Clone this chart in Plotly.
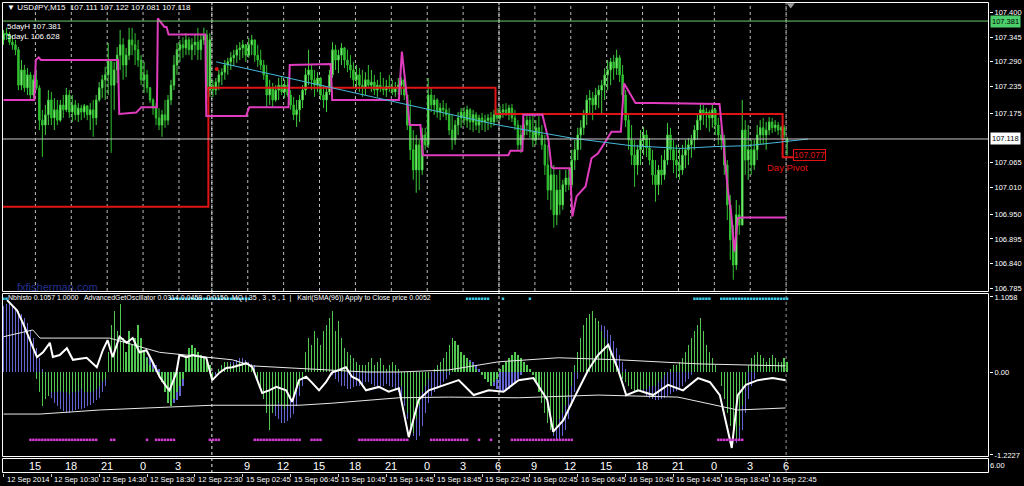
import plotly.graph_objects as go

# ---------------- DATA ----------------
# USDJPY M15 candles, one per bar (bar index 0 .. 262)
bar_open = [
    107.339, 107.354, 107.350, 107.334, 107.328, 107.317, 107.238, 107.272, 107.232, 107.261,
    107.216, 107.250, 107.232, 107.160, 107.149, 107.172, 107.205, 107.165, 107.183, 107.160,
    107.194, 107.183, 107.216, 107.178, 107.194, 107.172, 107.187, 107.178, 107.192, 107.172,
    107.183, 107.165, 107.205, 107.232, 107.250, 107.261, 107.294, 107.238, 107.272, 107.305,
    107.328, 107.283, 107.305, 107.339, 107.328, 107.317, 107.294, 107.250, 107.261, 107.232,
    107.205, 107.187, 107.165, 107.149, 107.172, 107.160, 107.205, 107.238, 107.283, 107.317,
    107.328, 107.321, 107.339, 107.317, 107.328, 107.334,
    107.317, 107.339, 107.350, 107.227, 107.238, 107.227, 107.245, 107.261, 107.267, 107.283,
    107.290, 107.299, 107.305, 107.317, 107.321, 107.328, 107.305, 107.328, 107.339, 107.305,
    107.294, 107.283, 107.261, 107.216, 107.232, 107.205, 107.227, 107.238, 107.223, 107.238,
    107.216, 107.194, 107.172, 107.183, 107.205, 107.227, 107.261, 107.272, 107.250, 107.238,
    107.254, 107.216, 107.205, 107.223, 107.261, 107.317, 107.294, 107.305, 107.321, 107.294,
    107.283, 107.272, 107.250, 107.261, 107.238, 107.232, 107.250, 107.238, 107.245, 107.227,
    107.238, 107.232, 107.227, 107.236, 107.232, 107.223, 107.232,
    107.238, 107.250, 107.216, 107.149, 107.094, 107.049, 107.105, 107.049, 107.127, 107.105,
    107.216, 107.194, 107.205, 107.178, 107.187, 107.183, 107.172, 107.138, 107.116, 107.149,
    107.165, 107.178, 107.160, 107.183, 107.156, 107.172, 107.149, 107.165, 107.156, 107.160,
    107.165, 107.156, 107.172, 107.165, 107.178, 107.183, 107.174, 107.187, 107.165, 107.149,
    107.105, 107.127, 107.149, 107.160, 107.134, 107.116, 107.143, 107.127, 107.105, 107.060,
    107.004, 107.038, 106.949, 107.004, 106.971, 107.016, 107.031, 107.016, 107.071, 107.094,
    107.127, 107.143, 107.172, 107.205, 107.209, 107.194, 107.216,
    107.227, 107.238, 107.261, 107.272, 107.290, 107.276, 107.299, 107.261, 107.216, 107.160,
    107.116, 107.082, 107.060, 107.094, 107.116, 107.127, 107.098, 107.071, 107.038, 107.016,
    107.049, 107.038, 107.071, 107.127, 107.094, 107.071, 107.060, 107.049, 107.082, 107.094,
    107.105, 107.116, 107.138, 107.160, 107.183, 107.172, 107.178, 107.165, 107.183, 107.149,
    107.127, 107.116, 107.060, 106.971, 106.893, 106.837, 106.949, 106.926, 107.138, 107.071,
    107.094, 107.060, 107.094, 107.127, 107.143, 107.127, 107.138, 107.156, 107.143, 107.149,
    107.138, 107.143, 107.111,
]
bar_high = [
    107.361, 107.366, 107.357, 107.350, 107.339, 107.323, 107.294, 107.283, 107.276, 107.267,
    107.261, 107.272, 107.238, 107.183, 107.194, 107.227, 107.223, 107.209, 107.205, 107.205,
    107.216, 107.232, 107.227, 107.216, 107.205, 107.198, 107.194, 107.196, 107.192, 107.198,
    107.205, 107.216, 107.245, 107.261, 107.279, 107.332, 107.294, 107.290, 107.323, 107.361,
    107.343, 107.321, 107.366, 107.366, 107.354, 107.339, 107.305, 107.290, 107.272, 107.234,
    107.209, 107.198, 107.187, 107.183, 107.205, 107.216, 107.250, 107.305, 107.332, 107.339,
    107.345, 107.354, 107.345, 107.343, 107.350, 107.366,
    107.350, 107.366, 107.361, 107.354, 107.250, 107.254, 107.272, 107.276, 107.294, 107.299,
    107.312, 107.317, 107.328, 107.334, 107.339, 107.330, 107.343, 107.350, 107.339, 107.328,
    107.317, 107.294, 107.283, 107.250, 107.243, 107.238, 107.254, 107.256, 107.250, 107.256,
    107.227, 107.212, 107.205, 107.216, 107.238, 107.276, 107.317, 107.283, 107.272, 107.267,
    107.256, 107.238, 107.232, 107.272, 107.334, 107.328, 107.317, 107.332, 107.323, 107.317,
    107.305, 107.290, 107.283, 107.276, 107.272, 107.267, 107.283, 107.272, 107.261, 107.250,
    107.267, 107.254, 107.250, 107.261, 107.250, 107.245, 107.254,
    107.256, 107.254, 107.216, 107.205, 107.138, 107.127, 107.116, 107.143, 107.143, 107.254,
    107.232, 107.216, 107.209, 107.198, 107.205, 107.198, 107.187, 107.172, 107.160, 107.178,
    107.187, 107.189, 107.192, 107.187, 107.183, 107.178, 107.172, 107.176, 107.172, 107.174,
    107.178, 107.183, 107.187, 107.192, 107.196, 107.198, 107.194, 107.196, 107.183, 107.160,
    107.149, 107.165, 107.172, 107.176, 107.172, 107.160, 107.169, 107.149, 107.127, 107.105,
    107.071, 107.060, 107.038, 107.049, 107.027, 107.049, 107.053, 107.094, 107.116, 107.143,
    107.160, 107.183, 107.216, 107.227, 107.223, 107.232, 107.238,
    107.250, 107.276, 107.294, 107.299, 107.305, 107.317, 107.305, 107.283, 107.227, 107.172,
    107.149, 107.116, 107.105, 107.138, 107.145, 107.138, 107.120, 107.094, 107.071, 107.060,
    107.082, 107.094, 107.154, 107.143, 107.116, 107.105, 107.098, 107.105, 107.116, 107.120,
    107.127, 107.149, 107.172, 107.198, 107.194, 107.187, 107.183, 107.194, 107.187, 107.165,
    107.149, 107.127, 107.071, 106.993, 106.926, 106.982, 106.971, 107.205, 107.160, 107.149,
    107.116, 107.116, 107.149, 107.160, 107.165, 107.156, 107.167, 107.165, 107.160, 107.156,
    107.147, 107.149, 107.122,
]
bar_low = [
    107.328, 107.339, 107.328, 107.317, 107.305, 107.227, 107.227, 107.223, 107.216, 107.205,
    107.209, 107.227, 107.138, 107.078, 107.127, 107.149, 107.149, 107.138, 107.149, 107.156,
    107.165, 107.178, 107.165, 107.156, 107.160, 107.156, 107.160, 107.165, 107.160, 107.138,
    107.123, 107.149, 107.201, 107.209, 107.205, 107.216, 107.087, 107.183, 107.243, 107.272,
    107.250, 107.256, 107.294, 107.305, 107.283, 107.279, 107.238, 107.221, 107.221, 107.198,
    107.172, 107.149, 107.138, 107.123, 107.143, 107.149, 107.194, 107.227, 107.261, 107.290,
    107.299, 107.305, 107.305, 107.294, 107.305, 107.294,
    107.294, 107.328, 107.205, 107.212, 107.212, 107.216, 107.227, 107.238, 107.250, 107.261,
    107.272, 107.281, 107.288, 107.294, 107.299, 107.290, 107.299, 107.305, 107.290, 107.279,
    107.272, 107.250, 107.189, 107.194, 107.189, 107.201, 107.205, 107.216, 107.209, 107.212,
    107.183, 107.160, 107.145, 107.156, 107.187, 107.216, 107.238, 107.227, 107.212, 107.223,
    107.205, 107.187, 107.178, 107.216, 107.254, 107.272, 107.265, 107.283, 107.276, 107.267,
    107.254, 107.234, 107.227, 107.223, 107.212, 107.216, 107.232, 107.223, 107.216, 107.212,
    107.223, 107.216, 107.212, 107.223, 107.216, 107.212, 107.216,
    107.216, 107.205, 107.138, 107.071, 107.027, 106.998, 107.004, 107.038, 107.094, 107.098,
    107.178, 107.172, 107.165, 107.160, 107.167, 107.160, 107.127, 107.094, 107.105, 107.127,
    107.143, 107.149, 107.143, 107.138, 107.134, 107.138, 107.131, 107.138, 107.134, 107.138,
    107.143, 107.147, 107.156, 107.160, 107.165, 107.169, 107.160, 107.156, 107.138, 107.094,
    107.087, 107.116, 107.127, 107.120, 107.100, 107.105, 107.116, 107.094, 107.038, 106.982,
    106.960, 106.920, 106.926, 106.949, 106.960, 107.000, 107.004, 107.009, 107.049, 107.071,
    107.094, 107.127, 107.149, 107.172, 107.160, 107.183, 107.187,
    107.176, 107.205, 107.227, 107.238, 107.250, 107.261, 107.245, 107.194, 107.145, 107.094,
    107.060, 107.011, 107.038, 107.060, 107.082, 107.078, 107.060, 107.016, 106.978, 106.993,
    107.016, 107.027, 107.060, 107.071, 107.042, 107.031, 107.027, 107.038, 107.053, 107.060,
    107.076, 107.094, 107.116, 107.138, 107.149, 107.143, 107.134, 107.143, 107.127, 107.105,
    107.094, 107.038, 106.937, 106.848, 106.804, 106.826, 106.904, 106.926, 107.038, 107.027,
    107.038, 107.049, 107.071, 107.105, 107.105, 107.094, 107.127, 107.131, 107.134, 107.127,
    107.120, 107.116, 107.081,
]
bar_close = [
    107.354, 107.350, 107.334, 107.328, 107.317, 107.238, 107.272, 107.232, 107.261, 107.216,
    107.250, 107.232, 107.160, 107.149, 107.172, 107.205, 107.165, 107.183, 107.160, 107.194,
    107.183, 107.216, 107.178, 107.194, 107.172, 107.187, 107.178, 107.192, 107.172, 107.183,
    107.165, 107.205, 107.232, 107.250, 107.261, 107.294, 107.238, 107.272, 107.305, 107.328,
    107.283, 107.305, 107.339, 107.328, 107.317, 107.294, 107.250, 107.261, 107.232, 107.205,
    107.187, 107.165, 107.149, 107.172, 107.160, 107.205, 107.238, 107.283, 107.317, 107.328,
    107.321, 107.339, 107.317, 107.328, 107.334, 107.317,
    107.339, 107.350, 107.227, 107.339, 107.227, 107.245, 107.261, 107.267, 107.283, 107.290,
    107.299, 107.305, 107.317, 107.321, 107.328, 107.305, 107.328, 107.339, 107.305, 107.294,
    107.283, 107.261, 107.216, 107.232, 107.205, 107.227, 107.238, 107.223, 107.238, 107.216,
    107.194, 107.172, 107.183, 107.205, 107.227, 107.261, 107.272, 107.250, 107.238, 107.254,
    107.216, 107.205, 107.223, 107.261, 107.317, 107.294, 107.305, 107.321, 107.294, 107.283,
    107.272, 107.250, 107.261, 107.238, 107.232, 107.250, 107.238, 107.245, 107.227, 107.238,
    107.232, 107.227, 107.236, 107.232, 107.223, 107.232, 107.238,
    107.250, 107.216, 107.149, 107.094, 107.049, 107.105, 107.049, 107.127, 107.105, 107.216,
    107.194, 107.205, 107.178, 107.187, 107.183, 107.172, 107.138, 107.116, 107.149, 107.165,
    107.178, 107.160, 107.183, 107.156, 107.172, 107.149, 107.165, 107.156, 107.160, 107.165,
    107.156, 107.172, 107.165, 107.178, 107.183, 107.174, 107.187, 107.165, 107.149, 107.105,
    107.127, 107.149, 107.160, 107.134, 107.116, 107.143, 107.127, 107.105, 107.060, 107.004,
    107.038, 106.949, 107.004, 106.971, 107.016, 107.031, 107.016, 107.071, 107.094, 107.127,
    107.143, 107.172, 107.205, 107.209, 107.194, 107.216, 107.227,
    107.238, 107.261, 107.272, 107.290, 107.276, 107.299, 107.261, 107.216, 107.160, 107.116,
    107.082, 107.060, 107.094, 107.116, 107.127, 107.098, 107.071, 107.038, 107.016, 107.049,
    107.038, 107.071, 107.127, 107.094, 107.071, 107.060, 107.049, 107.082, 107.094, 107.105,
    107.116, 107.138, 107.160, 107.183, 107.172, 107.178, 107.165, 107.183, 107.149, 107.127,
    107.116, 107.060, 106.971, 106.893, 106.837, 106.949, 106.926, 107.138, 107.071, 107.094,
    107.060, 107.094, 107.127, 107.143, 107.127, 107.138, 107.156, 107.143, 107.149, 107.138,
    107.143, 107.127, 107.118,
]

# daily pivot (red steps): day start bar and pivot value
day_start_bar = [0, 69, 165, 261]
day_pivot = [106.967, 107.232, 107.174, 107.077]
pivot_end_bar = 264

# magenta trailing line (bar, price)
mag_bar = [0, 10.3, 10.8, 11.8, 12.5, 38.3, 38.7, 44.4, 46.1, 51.3, 51.6, 53.8, 54.5, 55.2, 67.5,
           67.8, 81.1, 82.2, 95.3, 95.7, 109.4, 109.9, 132.2, 133.2, 134.5, 135.8, 139.4, 140.2,
           168.8, 169.5, 173.5, 173.8, 180.2, 182.2, 183.2, 183.8, 189.4, 190.2, 191.6, 194.6,
           196.6, 198.8, 203.3, 206.4, 207.5, 209.9, 211.3, 217.2, 239.4, 240.2, 242.2, 243.3,
           244.4, 245.5, 246.5, 261.6]
mag_price = [107.205, 107.205, 107.294, 107.300, 107.294, 107.294, 107.174, 107.177, 107.189,
             107.189, 107.387, 107.368, 107.368, 107.351, 107.351, 107.169, 107.169, 107.189,
             107.189, 107.283, 107.285, 107.205, 107.205, 107.313, 107.235, 107.149, 107.149,
             107.082, 107.082, 107.092, 107.092, 107.172, 107.172, 107.116, 107.056, 107.053,
             107.053, 106.945, 106.990, 107.012, 107.075, 107.086, 107.134, 107.134, 107.242,
             107.213, 107.198, 107.198, 107.196, 107.142, 107.004, 106.952, 106.867, 106.941,
             106.943, 106.943]

# light-blue regression line (bar, price)
reg_bar = [71.1, 132.2, 165.5, 189.9, 198.8, 209.9, 226.6, 237.7, 248.8, 261.1, 269.0]
reg_price = [107.290, 107.199, 107.149, 107.120, 107.112, 107.103, 107.097, 107.101, 107.103,
             107.112, 107.118]

five_day_high = 107.381
five_day_low = 106.628
last_price = 107.118
last_ohlc = "107.111 107.122 107.081 107.118"
red_dot_bar, red_dot_price = 71.3, 107.274

price_ticks = [107.400, 107.345, 107.290, 107.235, 107.175, 107.065, 107.010,
               106.950, 106.895, 106.840, 106.785]

# time axis
grid_bar = [10.5, 22.5, 34.5, 46.5, 58.5, 69.5, 81.5, 93.5, 105.5, 117.5, 129.5, 141.5,
            153.5, 165.5, 177.5, 189.5, 201.5, 213.5, 225.5, 237.5, 249.5, 261.5]
hour_bar = [10.5, 22.5, 34.5, 46.5, 58.5, 81.5, 93.5, 105.5, 117.5, 129.5, 141.5,
            153.5, 165.5, 177.5, 189.5, 201.5, 213.5, 225.5, 237.5, 249.5, 261.5]
hour_text = ["15", "18", "21", "0", "3", "9", "12", "15", "18", "21", "0",
             "3", "6", "9", "12", "15", "18", "21", "0", "3", "6"]
sep_bar = [69.5, 165.5, 261.5]
date_bar = [0, 16, 32, 48, 64, 80, 96, 112, 128, 144, 160, 176, 192, 208, 224, 240, 256]
date_text = ["12 Sep 2014", "12 Sep 10:30", "12 Sep 14:30", "12 Sep 18:30", "12 Sep 22:30",
             "15 Sep 02:45", "15 Sep 06:45", "15 Sep 10:45", "15 Sep 14:45", "15 Sep 18:45",
             "15 Sep 22:45", "16 Sep 02:45", "16 Sep 06:45", "16 Sep 10:45", "16 Sep 14:45",
             "16 Sep 18:45", "16 Sep 22:45"]

# oscillator window
blue_hist = [
    0.98, 1.0, 1.0, 0.97, 0.95, 0.9, 0.85, 0.8, 0.72, 0.62, 0.5, 0.35, 0.2, 0.05,
    -0.25, -0.3, -0.38, -0.45, -0.5, -0.55, -0.58, -0.6, -0.6, -0.58, -0.56, -0.55, -0.55,
    -0.53, -0.5, -0.48, -0.45, -0.42, -0.38, -0.3, -0.2,
    0.05, 0.1, 0.15, 0.2, 0.22, 0.25, 0.28, 0.3, 0.3, 0.28, 0.26, 0.25, 0.25, 0.22, 0.2, 0.15,
    0.1, 0.05,
    -0.1, -0.2, -0.3, -0.4, -0.45, -0.42, -0.35, -0.2,
    0.05, 0.15, 0.2, 0.25, 0.25, 0.22, 0.2, 0.15,
    0.1, -0.1, -0.05, 0.05,
    0.1, 0.12, 0.15, 0.15, 0.15, 0.18, 0.2, 0.2, 0.18, 0.15, 0.12, 0.1,
    0.0, -0.15, -0.3, -0.45, -0.55, -0.6, -0.65, -0.7, -0.75, -0.75, -0.72, -0.68, -0.62, -0.5,
    -0.35, -0.2,
    0.05, 0.1, 0.15, 0.2, 0.2, 0.15, 0.1, 0.05, 0.0, -0.05,
    -0.1, -0.15, -0.2, -0.2, -0.25, -0.25, -0.22, -0.2, -0.2, -0.18,
    -0.15, -0.15, -0.18, -0.2, -0.2, -0.22, -0.2, -0.18, -0.2, -0.22, -0.25, -0.3,
    -0.4, -0.5, -0.7, -0.85, -0.95, -1.0, -0.95,
    -0.8, -0.6, -0.45, -0.35, -0.3, -0.25,
    -0.2, -0.15, -0.1, -0.05, 0.05, 0.1, 0.15, 0.18, 0.2, 0.2, 0.18, 0.15, 0.1, 0.05, 0.0,
    -0.05, -0.1, -0.15, -0.2, -0.25, -0.3, -0.3, -0.28, -0.25, -0.2, -0.15, -0.1, -0.05, 0.0,
    0.05,
    0.05, 0.0, -0.1, -0.25, -0.4, -0.55, -0.7, -0.85, -0.95, -1.0, -1.0, -0.95, -0.85, -0.7,
    -0.5, -0.3, -0.1, 0.1, 0.3, 0.45,
    0.55, 0.6, 0.65, 0.7, 0.7, 0.68, 0.62, 0.55, 0.45, 0.35, 0.25, 0.15, 0.05, -0.05, -0.1,
    -0.15, -0.2, -0.25, -0.3, -0.35, -0.38, -0.4, -0.42, -0.42, -0.4, -0.38, -0.35, -0.32,
    -0.3, -0.28, -0.25, -0.2, -0.15, -0.1, -0.05, 0.0, 0.05, 0.1, 0.1, 0.1,
    0.1, 0.08, 0.05, 0.0, -0.1, -0.3, -0.55, -0.8, -1.0, -1.05, -1.0, -0.85, -0.6, -0.4, -0.2,
    -0.1, 0.0, 0.05, 0.1, 0.12, 0.15, 0.15, 0.15, 0.15, 0.15, 0.12, 0.1,
]
green_hist = [
    0.0, 0.0, 0.0, 0.0, 0.0, 0.0, 0.0, 0.0, 0.0, 0.0, 0.0,
    -0.1, -0.3, -0.5,
    -0.4, -0.35, -0.3, -0.3, -0.3, -0.28, -0.3, -0.3, -0.32, -0.3, -0.3, -0.28, -0.25, -0.3,
    -0.3, -0.3, -0.28, -0.25, -0.2, -0.15, -0.1,
    0.3, 0.7, 0.9, 0.6, 1.0, 0.5,
    0.3, 0.6, 0.4, 0.5, 0.7, 0.5, 0.3, 0.2, 0.1, 0.05, 0.0, -0.05,
    -0.15, -0.3, -0.45, -0.5, -0.4, -0.3, -0.2, -0.1,
    0.2, 0.35, 0.4, 0.35, 0.3, 0.25, 0.2, 0.15,
    0.1, -0.1, 0.0, 0.05, 0.1, 0.15, 0.15, 0.12, 0.1, 0.12, 0.15, 0.15, 0.12, 0.1, 0.08, 0.05,
    -0.1, -0.25, -0.4, -0.6, -0.85, -0.6, -0.5, -0.45, -0.5, -0.55, -0.5, -0.4, -0.35, -0.3,
    -0.2, -0.1,
    0.3, 0.5, 0.4, 0.6, 0.5, 0.4, 0.6, 0.7, 0.8, 0.9, 0.6, 0.75, 0.5, 0.35, 0.3, 0.25, 0.2,
    0.15, 0.1, 0.1,
    0.1, 0.15, 0.2, 0.1, 0.15, 0.2, 0.1, 0.05, 0.1, 0.15, 0.1, 0.05,
    -0.2, -0.4, -0.6, -0.8, -0.9, -0.7, -0.5, -0.3, -0.2, -0.1, 0.0, 0.05, 0.1,
    0.15, 0.2, 0.3, 0.4, 0.5, 0.45, 0.4, 0.3, 0.25, 0.2, 0.15, 0.1, 0.05, 0.0, -0.05,
    -0.1, -0.15, -0.2, -0.15, -0.1, 0.05, 0.1, 0.15, 0.2, 0.25, 0.3, 0.25, 0.2, 0.15, 0.1,
    0.05, -0.05, -0.15, -0.3, -0.45, -0.6, -0.75, -0.85, -0.9, -0.8, -0.7, -0.6, -0.5, -0.35,
    -0.2, 0.1, 0.3, 0.5, 0.7, 0.8,
    0.85, 0.9, 0.8, 0.75, 0.6, 0.5, 0.4, 0.3, 0.2, 0.1, 0.0, -0.1, -0.15, -0.2, -0.25,
    -0.3, -0.3, -0.3, -0.25, -0.25, -0.2, -0.2, -0.2, -0.15, -0.1, -0.05, 0.0, 0.05, 0.1, 0.1,
    0.15, 0.2, 0.3, 0.4, 0.5, 0.6, 0.7, 0.8, 0.6, 0.4,
    0.3, 0.2, 0.1, 0.0, -0.2, -0.4, -0.6, -0.8, -0.95, -1.0, -0.8, -0.5, -0.2, 0.1, 0.2,
    0.25, 0.3, 0.25, 0.2, 0.15, 0.2, 0.25, 0.2, 0.15, 0.15, 0.2, 0.15,
]
osc_bar = [1.2, 4.5, 6.5, 9.8, 11.2, 13.2, 15.5, 16.5, 18.8, 21.2, 23.2, 27.8, 31.2, 33.2, 34.8,
           36.5, 38.8, 41.2, 43.2, 45.5, 47.8, 49.8, 52.2, 54.5, 55.5, 57.8, 58.8, 61.2, 63.2,
           67.8, 69.8, 72.2, 74.5, 76.5, 81.2, 83.2, 86.5, 88.8, 91.2, 94.5, 96.5, 98.8, 101.2,
           103.2, 105.5, 107.8, 109.8, 112.2, 114.5, 116.5, 118.8, 121.2, 125.5, 128.8, 132.2,
           135.5, 138.8, 142.2, 147.2, 152.2, 157.2, 162.2, 167.2, 172.2, 177.2, 181.8, 183.8,
           187.2, 190.5, 195.5, 198.8, 202.2, 205.5, 208.2, 212.2, 217.2, 222.2, 227.2, 232.2,
           236.2, 239.5, 242.2, 243.5, 245.5, 248.2, 252.2, 257.2, 261.5]
osc_val = [1.06, 0.91, 0.72, 0.37, 0.22, 0.29, 0.43, 0.22, 0.25, 0.35, 0.18, 0.21, 0.07, 0.32,
           0.47, 0.22, 0.52, 0.43, 0.50, 0.29, 0.32, 0.15, -0.07, -0.22, -0.27, -0.01, 0.25,
           0.22, 0.25, 0.21, -0.12, -0.01, 0.06, 0.07, 0.13, 0.07, -0.31, -0.27, -0.22, -0.27,
           -0.44, -0.12, -0.07, -0.16, -0.27, -0.15, -0.01, 0.03, 0.07, -0.07, -0.12, -0.27,
           -0.22, -0.29, -0.24, -0.96, -0.41, -0.27, -0.19, -0.12, -0.34, -0.27, -0.29, -0.12,
           -0.09, -0.41, -0.88, -0.71, -0.41, 0.03, 0.25, 0.40, 0.03, -0.34, -0.27, -0.34,
           -0.19, -0.27, -0.09, -0.15, -0.34, -0.85, -1.12, -0.34, -0.19, -0.12, -0.09, -0.12]
upper_bar = [0, 9.8, 12.2, 35.5, 52.2, 76.5, 83.2, 104.5, 121.2, 132.2, 148.8, 165.5, 185.5,
             205.5, 232.2, 261.5]
upper_val = [0.52, 0.62, 0.50, 0.50, 0.29, 0.18, 0.09, 0.04, 0.0, 0.0, 0.03, 0.15, 0.21, 0.18,
             0.12, 0.09]
lower_bar = [0, 12.2, 32.2, 69.8, 98.8, 109.8, 132.2, 148.8, 172.2, 198.8, 225.5, 245.5, 261.5]
lower_val = [-0.62, -0.62, -0.56, -0.49, -0.49, -0.46, -0.38, -0.37, -0.38, -0.34, -0.37,
             -0.56, -0.53]
cyan_dot_runs = [(0, 1), (56, 82), (155, 162), (167, 167), (176, 176), (231, 236), (240, 262)]
mag_dot_runs = [(9, 31), (36, 37), (48, 48), (51, 57), (69, 72), (84, 99), (103, 106),
                (119, 135), (143, 155), (159, 159), (163, 163), (170, 190), (239, 247)]
osc_max, osc_min = 1.1058, -1.2227

# ---------------- LAYOUT HELPERS ----------------
W, H = 1024, 486
ML, MR, MT, MB = 2, 32, 2, 13
PH = H - MT - MB
PW = W - ML - MR
HALF_X = 0.5 / PW          # half a pixel in paper-x units (crisp 1px frame lines)
GRID_NUDGE = 1.0 / 6.0     # half a pixel in bar units (3 px per bar)


def py(px):  # pixel row -> paper fraction
    return (H - MB - px) / PH


bars = list(range(len(bar_close)))
WHITE = "#ffffff"
FONT = "Liberation Sans, Arial, sans-serif"

fig = go.Figure()

# --- oscillator window ---
fig.add_trace(go.Bar(x=bars, y=blue_hist, width=0.42, marker=dict(color="#6464d2", line=dict(width=0)),
                     xaxis="x2", yaxis="y2", showlegend=False, hoverinfo="skip"))
fig.add_trace(go.Bar(x=bars, y=green_hist, width=0.42, marker=dict(color="#52c852", line=dict(width=0)),
                     xaxis="x2", yaxis="y2", showlegend=False, hoverinfo="skip"))
fig.add_trace(go.Scatter(x=upper_bar, y=upper_val, mode="lines", line=dict(color="#e8e8e8", width=1),
                         xaxis="x2", yaxis="y2", showlegend=False, hoverinfo="skip"))
fig.add_trace(go.Scatter(x=lower_bar, y=lower_val, mode="lines", line=dict(color="#e8e8e8", width=1),
                         xaxis="x2", yaxis="y2", showlegend=False, hoverinfo="skip"))
fig.add_trace(go.Scatter(x=osc_bar, y=osc_val, mode="lines", line=dict(color=WHITE, width=2),
                         xaxis="x2", yaxis="y2", showlegend=False, hoverinfo="skip"))
cy_x = [b for a, z in cyan_dot_runs for b in range(a, z + 1)]
fig.add_trace(go.Scatter(x=cy_x, y=[1.08] * len(cy_x), mode="markers",
                         marker=dict(symbol="square", size=2.5, color="#3cc8e6", line=dict(width=0)),
                         xaxis="x2", yaxis="y2", showlegend=False, hoverinfo="skip"))
mg_x = [b for a, z in mag_dot_runs for b in range(a, z + 1)]
fig.add_trace(go.Scatter(x=mg_x, y=[-1.0] * len(mg_x), mode="markers",
                         marker=dict(symbol="square", size=2.5, color="#d23cd2", line=dict(width=0)),
                         xaxis="x2", yaxis="y2", showlegend=False, hoverinfo="skip"))

# --- price window ---
fig.add_trace(go.Candlestick(
    x=bars, open=bar_open, high=bar_high, low=bar_low, close=bar_close,
    increasing=dict(line=dict(color="#40d040", width=1), fillcolor="#b4ffa8"),
    decreasing=dict(line=dict(color="#30c030", width=1), fillcolor="#30c030"),
    whiskerwidth=0, xaxis="x", yaxis="y", showlegend=False, hoverinfo="skip"))

piv_x = [b - 0.5 for b in day_start_bar] + [pivot_end_bar]
piv_y = day_pivot + [day_pivot[-1]]
fig.add_trace(go.Scatter(x=piv_x, y=piv_y, mode="lines", line=dict(color="#e01414", width=2, shape="hv"),
                         xaxis="x", yaxis="y", showlegend=False, hoverinfo="skip"))
fig.add_trace(go.Scatter(x=mag_bar, y=mag_price, mode="lines", line=dict(color="#e03cbe", width=2),
                         xaxis="x", yaxis="y", showlegend=False, hoverinfo="skip"))
fig.add_trace(go.Scatter(x=reg_bar, y=reg_price, mode="lines", line=dict(color="#46b8dc", width=1),
                         xaxis="x", yaxis="y", showlegend=False, hoverinfo="skip"))
fig.add_trace(go.Scatter(x=[red_dot_bar], y=[red_dot_price], mode="markers",
                         marker=dict(color="#e01414", size=4), xaxis="x", yaxis="y",
                         showlegend=False, hoverinfo="skip"))
fig.add_trace(go.Scatter(x=[263.2], y=[107.417], mode="markers",
                         marker=dict(symbol="triangle-down", color="#9a9a9a", size=7),
                         xaxis="x", yaxis="y", showlegend=False, hoverinfo="skip"))

shapes = []
# hour grid in price window
for b in grid_bar:
    shapes.append(dict(type="line", xref="x", yref="y domain", x0=b + GRID_NUDGE, x1=b + GRID_NUDGE,
                       y0=0, y1=1, line=dict(color="#bdbdbd", width=1, dash="3px,3px"), layer="below"))
# period separators through all windows
for k, b in enumerate(sep_bar):
    shapes.append(dict(type="line", xref="x", yref="paper", x0=b + GRID_NUDGE, x1=b + GRID_NUDGE, y0=0, y1=1,
                       line=dict(color="#9a9a9a" if k == len(sep_bar) - 1 else "#f0f0f0",
                                 width=1, dash="3px,3px"), layer="below"))
# price lines
shapes.append(dict(type="line", xref="paper", yref="y", x0=0, x1=1, y0=five_day_high, y1=five_day_high,
                   line=dict(color="#6ccf6c", width=1)))
shapes.append(dict(type="line", xref="paper", yref="y", x0=0, x1=1, y0=last_price, y1=last_price,
                   line=dict(color="#c8c8c8", width=1)))
# window frames (on half pixels so they stay 1px sharp)
for top, bot in [(2.5, 291.5), (293.5, 456.5), (458.5, 472.5)]:
    shapes.append(dict(type="rect", xref="paper", yref="paper", x0=HALF_X, x1=1 - HALF_X,
                       y0=py(bot), y1=py(top), line=dict(color=WHITE, width=1), fillcolor="rgba(0,0,0,0)"))

ann = []
small = dict(family=FONT, size=7.5, color=WHITE)
ann.append(dict(xref="paper", yref="paper", x=0.003, y=py(8), xanchor="left", yanchor="middle",
                text="▼ USDJPY,M15  " + last_ohlc, showarrow=False, font=dict(family=FONT, size=8, color=WHITE)))
ann.append(dict(xref="paper", yref="paper", x=0.003, y=py(27), xanchor="left", yanchor="middle",
                text=f"5dayH {five_day_high:.3f}", showarrow=False, font=dict(family=FONT, size=8, color=WHITE)))
ann.append(dict(xref="paper", yref="paper", x=0.003, y=py(37), xanchor="left", yanchor="middle",
                text=f"5dayL {five_day_low:.3f}", showarrow=False, font=dict(family=FONT, size=8, color=WHITE)))
ann.append(dict(xref="x", yref="y", x=4, y=106.789, xanchor="left", yanchor="middle",
                text="fxfisherman.com", showarrow=False, font=dict(family=FONT, size=11, color="#24308c")))
ann.append(dict(xref="paper", yref="paper", x=0.004, y=py(298), xanchor="left", yanchor="middle",
                text="Nbhisto 0.1057 1.0000   AdvancedGetOscillator 0.0314 0.0458 -0.0150  MQ | 35 , 3 , 5 , 1  |"
                     "   Kairi(SMA(96)) Apply to Close price 0.0052",
                showarrow=False, font=dict(family=FONT, size=7, color=WHITE)))
# Day pivot label (text sits just under the value box)
ann.append(dict(xref="x", yref="y", x=254.5, y=107.055, xanchor="left", yanchor="middle",
                text="Day Pivot", showarrow=False, font=dict(family=FONT, size=9.5, color="#e01414")))
ann.append(dict(xref="x", yref="y", x=263.8, y=107.083, xanchor="left", yanchor="middle",
                text=f"{day_pivot[-1]:.3f}", showarrow=False, bgcolor="#000000", bordercolor="#e01414",
                borderwidth=1, borderpad=0, font=dict(family=FONT, size=8.5, color="#e01414")))
# right-axis boxes
ann.append(dict(xref="paper", yref="y", x=1, y=five_day_high, xanchor="left", yanchor="middle", xshift=1,
                text=f"{five_day_high:.3f}", showarrow=False, bgcolor="#4ccf6c", borderpad=1,
                font=dict(family=FONT, size=7.5, color="#000000")))
ann.append(dict(xref="paper", yref="y", x=1, y=last_price, xanchor="left", yanchor="middle", xshift=1,
                text=f"{last_price:.3f}", showarrow=False, bgcolor="#ffffff", borderpad=1,
                font=dict(family=FONT, size=7.5, color="#000000")))
# hour labels row
for b, t in zip(hour_bar, hour_text):
    ann.append(dict(xref="x3", yref="y3", x=b, y=0.5, xanchor="center", yanchor="middle", text=t,
                    showarrow=False, font=dict(family=FONT, size=11, color=WHITE)))
# date labels
for b, t in zip(date_bar, date_text):
    ann.append(dict(xref="x3", yref="paper", x=b, y=py(479), xanchor="left", yanchor="middle", xshift=1,
                    text=t, showarrow=False, font=small))

xr = [-0.5, 329.5]
ax_common = dict(range=xr, showgrid=False, zeroline=False, showticklabels=False, ticks="",
                 showline=False, fixedrange=True)
fig.update_layout(
    width=W, height=H, margin=dict(l=ML, r=MR, t=MT, b=MB),
    paper_bgcolor="#000000", plot_bgcolor="#000000", barmode="overlay", bargap=0,
    hovermode=False, showlegend=False,
    xaxis=dict(ax_common, domain=[0, 1], anchor="y", rangeslider=dict(visible=False)),
    xaxis2=dict(ax_common, domain=[0, 1], anchor="y2"),
    xaxis3=dict(ax_common, domain=[0, 1], anchor="y3", ticks="outside", ticklen=3, tickcolor="#cccccc",
                tickvals=date_bar),
    yaxis=dict(domain=[py(291), 1.0], range=[106.779, 107.4235], side="right", showgrid=False,
               zeroline=False, tickvals=price_ticks, ticktext=[f"{v:.3f}" for v in price_ticks],
               ticks="outside", ticklen=3, tickcolor=WHITE, tickfont=small, fixedrange=True),
    yaxis2=dict(domain=[py(456), py(293)], range=[-1.2382, 1.1645], side="right", showgrid=False,
                zeroline=False, tickvals=[osc_max, 0, osc_min], ticktext=[f"{osc_max:.4f}", "0.00", f"{osc_min:.4f}"],
                ticks="outside", ticklen=3, tickcolor=WHITE, tickfont=small, fixedrange=True),
    yaxis3=dict(domain=[0, py(458)], range=[0, 1], side="right", showgrid=False, zeroline=False,
                tickvals=[0.5], ticktext=["6.00"], ticks="", tickfont=small, fixedrange=True),
    shapes=shapes, annotations=ann,
)

fig.write_html("out.html", config=dict(displayModeBar=False, staticPlot=True),
               post_script="document.body.style.margin='0';document.body.style.overflow='hidden';")
